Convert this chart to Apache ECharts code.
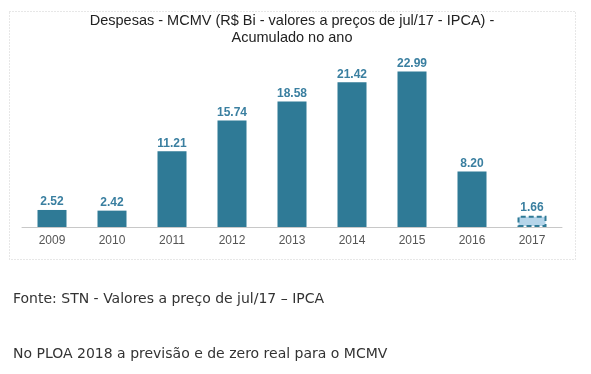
<!DOCTYPE html>
<html><head><meta charset="utf-8">
<script src="https://cdn.jsdelivr.net/npm/echarts@6/dist/echarts.min.js"></script>
<style>html,body{margin:0;padding:0;background:#fff}#c{width:591px;height:374px}</style>
</head><body><div id="c"></div>
<script>
const categories = ['2009','2010','2011','2012','2013','2014','2015','2016','2017'];
const values = [2.52, 2.42, 11.21, 15.74, 18.58, 21.42, 22.99, 8.20, 1.66];
const titleText = 'Despesas - MCMV (R$ Bi - valores a preços de jul/17 - IPCA) -\nAcumulado no ano';
const note1 = 'Fonte: STN - Valores a preço de jul/17 \u2013 IPCA';
const note2 = 'No PLOA 2018 a previsão e de zero real para o MCMV';

const chart = echarts.init(document.getElementById('c'));
const mainColor = '#2f7a96';
const data = values.map((v, i) => {
  if (i === values.length - 1) {
    return {value: v, itemStyle: {color: '#b5d5ea', borderColor: mainColor, borderType: [5, 3], borderWidth: 2}};
  }
  return {value: v};
});
chart.setOption({
  animation: false,
  title: {
    text: titleText, left: 287, top: 7, textAlign: 'center',
    textStyle: {fontFamily: 'Liberation Sans', fontSize: 14.5, fontWeight: 'normal', color: '#222', lineHeight: 17}
  },
  grid: {left: 22, right: 29, top: 58, bottom: 147},
  xAxis: {
    type: 'category', data: categories,
    axisLine: {lineStyle: {color: '#c8c8c8'}},
    axisTick: {show: false},
    axisLabel: {color: '#555', fontFamily: 'Liberation Sans', fontSize: 12, margin: 8}
  },
  yAxis: {type: 'value', min: 0, max: 25, show: false, splitLine: {show: false}},
  series: [{
    type: 'bar', data: data, barWidth: 29,
    itemStyle: {color: mainColor},
    label: {show: true, position: 'top', distance: 2, color: '#3a7fa0', fontWeight: 'bold',
      fontFamily: 'Liberation Sans', fontSize: 12, formatter: p => p.value.toFixed(2)}
  }],
  graphic: [
    {type: 'rect', shape: {x: 9.5, y: 11.5, width: 566, height: 248},
      style: {fill: 'none', stroke: '#cfcfcf', lineWidth: 1, lineDash: [1, 2]}, silent: true, z: -1},
    {type: 'text', left: 13, top: 292, style: {text: note1, fontFamily: 'DejaVu Sans', fontSize: 14, fill: '#333'}},
    {type: 'text', left: 13, top: 347, style: {text: note2, fontFamily: 'DejaVu Sans', fontSize: 14, fill: '#333'}}
  ]
});
</script></body></html>
